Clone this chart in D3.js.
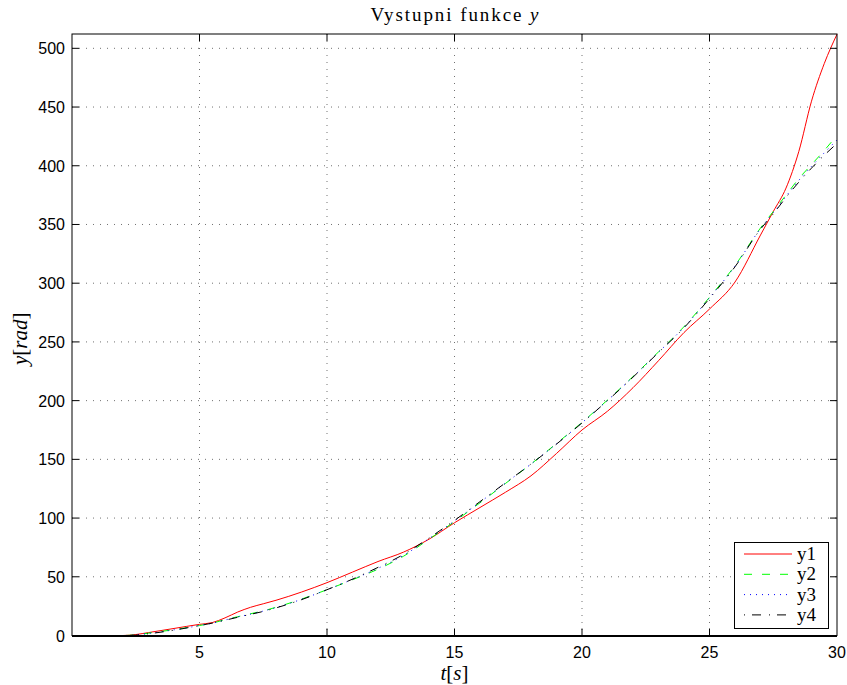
<!DOCTYPE html>
<html><head><meta charset="utf-8">
<script src="https://cdn.jsdelivr.net/npm/d3@7"></script>
<style>body{margin:0;background:#fff}svg{display:block}</style>
</head><body>
<script>
const tValues = [0,1,2,2.5,3,4,5,5.5,6,6.5,7,7.5,8,9,10,11,12,13,14,15,16,17,18,19,20,21,22,23,24,25,26,27,27.5,28,28.5,29,29.5,30];
const y1 = [0,0,0,0.8,2.5,6,9.5,11,15,20,24,27,30,37,45,54,63,71,82,96,109,122,136,155,175,191,211,234,258,278,301,341,361,381,412,455,487,512];
const y2 = [0,0,0,0.5,2,5,8.5,10.5,13.5,16,18.5,21,24,31,39,47.5,56.5,67.5,82,97,113,129.5,146,163.5,181.5,200.5,220.5,241.5,263,288,315,347,361,375,389,401,413,426];
const y3 = [0,0,0,0.4,1.8,4.8,8.5,10.5,13.2,15.8,18.2,20.8,23.8,30.8,39,47.8,57.2,68.2,82.5,97.5,113.5,129.8,146,163.2,181.2,200.2,220.2,241.2,262.5,287.5,314.5,346.5,360,374,387.5,399.5,411,422];
const y4 = [0,0,0,0.3,1.5,4.5,8.5,10.5,13,15.5,18,20.5,23.5,30.5,39,48,58,69,83,98,114,130,146,163,181,200,220,241,262,287,314,346,359,373,386,398,409,419];
const seriesNames = ["y1","y2","y3","y4"];
const xTicks = [5,10,15,20,25,30];
const yTicks = [0,50,100,150,200,250,300,350,400,450,500];

const W = 847, H = 685;
const L = 72, R = 837, T = 34, B = 635.5;
const svg = d3.select("body").append("svg").attr("width", W).attr("height", H);
const x = d3.scaleLinear().domain([0,30]).range([L,R]);
const y = d3.scaleLinear().domain([0,512.2]).range([B,T]);

const styles = [
  {color:"#ff0000", dash:null},
  {color:"#00ff00", dash:"8,10"},
  {color:"#0000ff", dash:"1,5"},
  {color:"#000000", dash:"1,7,9,8"}
];

// grid
const g = svg.append("g");
g.selectAll(".gx").data(xTicks.filter(d=>d<30)).enter().append("line")
  .attr("x1",d=>x(d)).attr("x2",d=>x(d)).attr("y1",T).attr("y2",B)
  .attr("stroke","#333").attr("stroke-width",0.7).attr("stroke-dasharray","1,6");
g.selectAll(".gy").data(yTicks.filter(d=>d>0)).enter().append("line")
  .attr("x1",L).attr("x2",R).attr("y1",d=>y(d)).attr("y2",d=>y(d))
  .attr("stroke","#333").attr("stroke-width",0.7).attr("stroke-dasharray","1,6");

// data
const allY = [y1,y2,y3,y4];
const line = d3.line().x((d,i)=>x(tValues[i])).y(d=>y(d)).curve(d3.curveMonotoneX);
allY.forEach((arr,k)=>{
  svg.append("path").datum(arr).attr("d",line).attr("fill","none")
    .attr("stroke",styles[k].color).attr("stroke-width",1)
    .attr("stroke-dasharray",styles[k].dash);
});

// axes with inward ticks
const tl = 7;
const ax = svg.append("g").attr("stroke","#000").attr("stroke-width",1);
xTicks.filter(d=>d<30).forEach(d=>{
  ax.append("line").attr("x1",x(d)).attr("x2",x(d)).attr("y1",B).attr("y2",B-tl);
  ax.append("line").attr("x1",x(d)).attr("x2",x(d)).attr("y1",T).attr("y2",T+tl);
});
yTicks.filter(d=>d>0).forEach(d=>{
  ax.append("line").attr("x1",L).attr("x2",L+tl).attr("y1",y(d)).attr("y2",y(d));
  ax.append("line").attr("x1",R).attr("x2",R-tl).attr("y1",y(d)).attr("y2",y(d));
});
svg.append("rect").attr("x",L).attr("y",T).attr("width",R-L).attr("height",B-T)
  .attr("fill","none").attr("stroke","#000").attr("stroke-width",1);
svg.append("line").attr("x1",L).attr("x2",R).attr("y1",B+0.5).attr("y2",B+0.5)
  .attr("stroke","#000").attr("stroke-width",2);

// tick labels
svg.selectAll(".xl").data(xTicks).enter().append("text")
  .attr("x",d=>x(d)).attr("y",658).attr("text-anchor","middle")
  .style("font-family","Liberation Sans, Arial, sans-serif").style("font-size","16px").text(d=>d);
svg.selectAll(".yl").data(yTicks).enter().append("text")
  .attr("x",65).attr("y",d=>y(d)+6).attr("text-anchor","end")
  .style("font-family","Liberation Sans, Arial, sans-serif").style("font-size","16px").text(d=>d);

// title
const serif = "Liberation Serif, DejaVu Serif, serif";
const title = svg.append("text").attr("x",(L+R)/2).attr("y",21).attr("text-anchor","middle")
  .attr("textLength",168).attr("lengthAdjust","spacing")
  .style("font-family",serif).style("font-size","19px");
title.append("tspan").text("Vystupni funkce ");
title.append("tspan").style("font-style","italic").text("y");

const xl = svg.append("text").attr("x",(L+R)/2).attr("y",680).attr("text-anchor","middle")
  .style("font-family",serif).style("font-size","21px");
xl.append("tspan").style("font-style","italic").text("t");
xl.append("tspan").text("[");
xl.append("tspan").style("font-style","italic").text("s");
xl.append("tspan").text("]");

const yl = svg.append("text").attr("transform",`translate(27,${(T+B)/2+4}) rotate(-90)`)
  .attr("text-anchor","middle").style("font-family",serif).style("font-size","21px");
yl.append("tspan").style("font-style","italic").text("y");
yl.append("tspan").text("[");
yl.append("tspan").style("font-style","italic").text("rad");
yl.append("tspan").text("]");

// legend
const lg = svg.append("g");
lg.append("rect").attr("x",734.5).attr("y",542.5).attr("width",94).attr("height",86)
  .attr("fill","#fff").attr("stroke","#000").attr("stroke-width",1);
seriesNames.forEach((n,k)=>{
  const yy = 554 + k*20.3;
  lg.append("line").attr("x1",744).attr("x2",792).attr("y1",yy).attr("y2",yy)
    .attr("stroke",styles[k].color).attr("stroke-width",1).attr("stroke-dasharray",styles[k].dash);
  lg.append("text").attr("x",797).attr("y",yy+6).style("font-family",serif).style("font-size","19px").text(n);
});
</script>
</body></html>
